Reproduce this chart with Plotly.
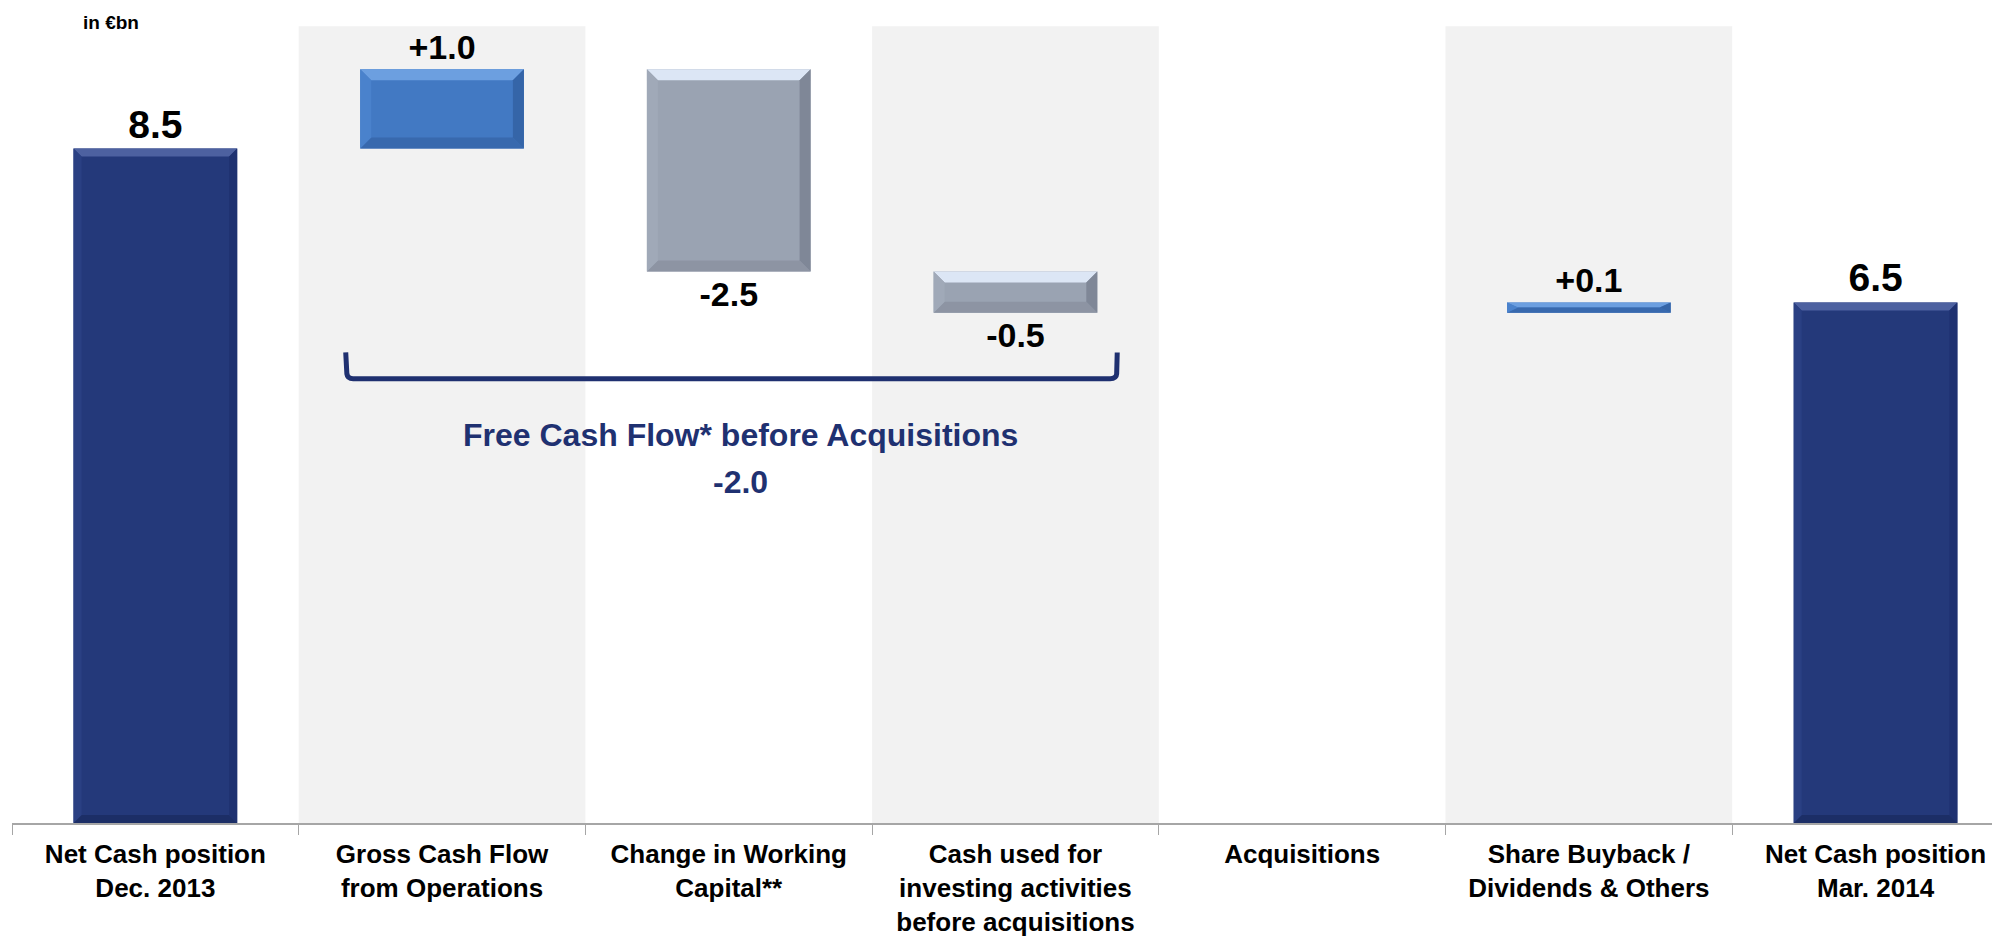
import plotly.graph_objects as go

# ---------------- data ----------------
categories = [
    "Net Cash position<br>Dec. 2013",
    "Gross Cash Flow<br>from Operations",
    "Change in Working<br>Capital**",
    "Cash used for<br>investing activities<br>before acquisitions",
    "Acquisitions",
    "Share Buyback /<br>Dividends & Others",
    "Net Cash position<br>Mar. 2014",
]
measures = ["absolute", "relative", "relative", "relative", "relative", "relative", "total"]
values = [8.5, 1.0, -2.55, -0.52, 0.0, 0.13, 0.0]
value_labels = ["8.5", "+1.0", "-2.5", "-0.5", "", "+0.1", "6.5"]
shaded_columns = [1, 3, 5]
fcf_title = "Free Cash Flow* before Acquisitions"
fcf_value = "-2.0"
unit_label = "in €bn"

# ---------------- style ----------------
NAVY = "#24397A"
BLUE = "#4279C3"
GREY = "#9AA3B2"
BAND = "#F2F2F2"
FONT = "Liberation Sans, Arial, sans-serif"
BAR_W = 0.571
# page body has an 8px margin, so the figure is sized to fit the 2000x936 window
W, H = 1992, 928
ML, MB = 4, 112.5
CAT_PX = 286.7
PX_PER_UNIT = 79.4
PLOT_H = H - MB
Y_TOP = PLOT_H / PX_PER_UNIT

fig = go.Figure()

fig.add_trace(go.Waterfall(
    x=categories,
    measure=measures,
    y=values,
    text=value_labels,
    textposition="outside",
    textfont=dict(family=FONT, color="black", weight="bold",
                  size=[39 if m != "relative" else 34 for m in measures]),
    width=BAR_W,
    increasing=dict(marker=dict(color=BLUE)),
    decreasing=dict(marker=dict(color=GREY)),
    totals=dict(marker=dict(color=NAVY)),
    connector=dict(visible=False),
    cliponaxis=False,
    hoverinfo="skip",
))

shapes = []
# background bands
for c in shaded_columns:
    shapes.append(dict(type="rect", xref="x", yref="y", x0=c - 0.5, x1=c + 0.5,
                       y0=0, y1=10.04, fillcolor=BAND, line=dict(width=0), layer="below"))

# bevel effect computed from the data
bevel_cols = {
    "total": ("#4D61A0", "#1C2E66", "#2A4083", "#1E3170"),
    "inc": ("#6C9FE0", "#3869AE", "#4A82CC", "#3565A8"),
    "dec": ("#DCE6F5", "#8D94A3", "#A0A9B8", "#7F8797"),
}
run = 0.0
for i, (m, v) in enumerate(zip(measures, values)):
    if m == "absolute":
        b, t, kind = 0.0, v, "total"
        run = v
    elif m == "total":
        b, t, kind = 0.0, run, "total"
    else:
        if v == 0:
            continue
        b, t = (run, run + v) if v > 0 else (run + v, run)
        kind = "inc" if v > 0 else "dec"
        run += v
    e = 11 if kind != "total" else 8
    bx = e / CAT_PX
    by = min(e / PX_PER_UNIT, (t - b) / 2)
    xl, xr = i - BAR_W / 2, i + BAR_W / 2
    top_c, bot_c, left_c, right_c = bevel_cols[kind]
    polys = [
        (top_c, [(xl, t), (xr, t), (xr - bx, t - by), (xl + bx, t - by)]),
        (bot_c, [(xl, b), (xr, b), (xr - bx, b + by), (xl + bx, b + by)]),
        (left_c, [(xl, b), (xl, t), (xl + bx, t - by), (xl + bx, b + by)]),
        (right_c, [(xr, b), (xr, t), (xr - bx, t - by), (xr - bx, b + by)]),
    ]
    for col, pts in polys:
        path = "M " + " L ".join(f"{px},{py}" for px, py in pts) + " Z"
        shapes.append(dict(type="path", xref="x", yref="y", path=path,
                           fillcolor=col, line=dict(width=0), layer="above"))

# bracket
shapes.append(dict(type="path", xref="x", yref="y",
                   path="M 0.664,5.93 L 0.668,5.66 Q 0.670,5.60 0.69,5.60 L 3.33,5.60 Q 3.352,5.60 3.353,5.66 L 3.355,5.93",
                   line=dict(color="#1F3070", width=5), layer="above"))

fig.update_layout(
    width=W, height=H,
    margin=dict(l=ML, r=0, t=0, b=MB, autoexpand=False),
    plot_bgcolor="white", paper_bgcolor="white",
    showlegend=False,
    shapes=shapes,
    font=dict(family=FONT, color="black"),
    xaxis=dict(
        type="category",
        range=[-0.5, -0.5 + (W - ML) / CAT_PX],
        showline=True, linecolor="#A6A6A6", linewidth=2,
        ticks="outside", ticklen=10, tickcolor="#A6A6A6", tickwidth=1,
        tickson="boundaries",
        ticklabelstandoff=7,
        tickfont=dict(family=FONT, size=26, color="black", weight="bold"),
        showgrid=False, zeroline=False, fixedrange=True,
    ),
    yaxis=dict(range=[0, Y_TOP], visible=False, showgrid=False, zeroline=False, fixedrange=True),
    annotations=[
        dict(text=unit_label, xref="paper", yref="paper", xanchor="center", yanchor="middle",
             x=(103 - ML) / (W - ML), y=1 - 15 / PLOT_H, showarrow=False,
             font=dict(family=FONT, size=19, color="black", weight="bold")),
        dict(text=fcf_title, xref="x", yref="y", x=2.04, y=4.89, showarrow=False,
             xanchor="center", yanchor="middle",
             font=dict(family=FONT, size=32, color="#1F3171", weight="bold")),
        dict(text=fcf_value, xref="x", yref="y", x=2.04, y=4.30, showarrow=False,
             xanchor="center", yanchor="middle",
             font=dict(family=FONT, size=32, color="#1F3171", weight="bold")),
    ],
)

fig.write_html("out.html")
